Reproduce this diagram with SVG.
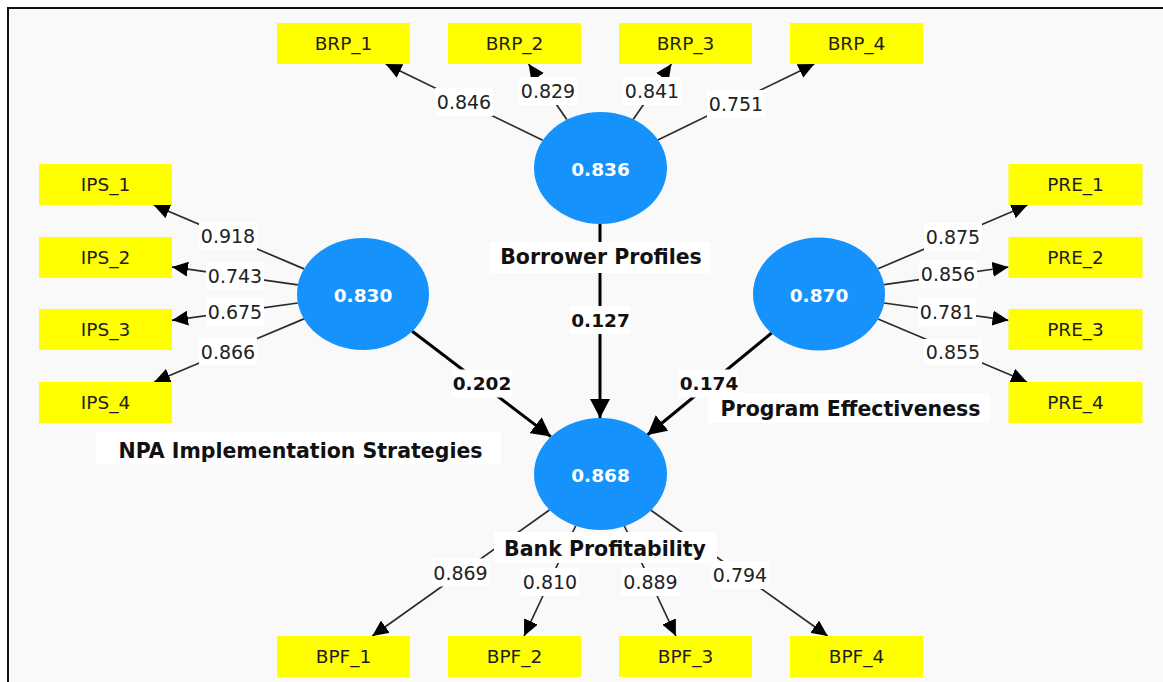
<svg xmlns="http://www.w3.org/2000/svg" width="1163" height="682" viewBox="0 0 1163 682">
  <style>
    .ind rect { fill: #ffff00; }
    .ind text { font-family: "DejaVu Sans", sans-serif; font-size: 18.5px; fill: #1e1e1e; text-anchor: middle; }
    .lv ellipse { fill: #1592fc; }
    .lv .val { font-family: "DejaVu Sans", sans-serif; font-weight: bold; font-size: 18.5px; fill: #ffffff; text-anchor: middle; }
    .name rect, .lbl rect { fill: #ffffff; }
    .name text { font-family: "DejaVu Sans", sans-serif; font-weight: bold; font-size: 20.5px; fill: #111111; text-anchor: middle; }
    .load { stroke: #2a2a2a; stroke-width: 1.7; fill: none; marker-end: url(#ah); }
    .path { stroke: #000000; stroke-width: 3; fill: none; marker-end: url(#ahp); }
    .lbl text { font-family: "DejaVu Sans", sans-serif; font-size: 19px; fill: #222222; text-anchor: middle; }
    .lbl.b text { font-weight: bold; font-size: 18.5px; fill: #111111; }
  </style>
  <defs>
    <marker id="ah" markerUnits="userSpaceOnUse" markerWidth="16" markerHeight="15" refX="16" refY="7.5" orient="auto">
      <path d="M0,0 L16,7.5 L0,15 z" fill="#000000"/>
    </marker>
    <marker id="ahp" markerUnits="userSpaceOnUse" markerWidth="19" markerHeight="20" refX="19" refY="10" orient="auto">
      <path d="M0,0 L19,10 L0,20 z" fill="#000000"/>
    </marker>
  </defs>

  <!-- canvas and frame -->
  <rect x="0" y="0" width="1163" height="682" fill="#ffffff"/>
  <rect x="8" y="8" width="1155" height="674" fill="#f9f9f9"/>
  <path d="M8,682 L8,8 L1163,8" stroke="#111111" stroke-width="2" fill="none"/>

  <!-- connectors -->
  <g id="connectors">
    <!-- outer loadings -->
    <line class="load" x1="542.7" y1="140.2" x2="385.7" y2="64"/>
    <line class="load" x1="566.8" y1="119.6" x2="528.6" y2="64"/>
    <line class="load" x1="633.2" y1="119.6" x2="671.4" y2="64"/>
    <line class="load" x1="657.3" y1="140.2" x2="814.3" y2="64"/>
    <line class="load" x1="304.0" y1="268.9" x2="153.7" y2="205"/>
    <line class="load" x1="297.9" y1="284.8" x2="172" y2="266.9"/>
    <line class="load" x1="297.8" y1="303.0" x2="172" y2="320.3"/>
    <line class="load" x1="303.9" y1="318.9" x2="154.2" y2="382"/>
    <line class="load" x1="878" y1="268.8" x2="1027.5" y2="205"/>
    <line class="load" x1="884.1" y1="284.7" x2="1008.5" y2="267"/>
    <line class="load" x1="884.1" y1="303.0" x2="1008.5" y2="320.3"/>
    <line class="load" x1="878.1" y1="319" x2="1027" y2="382"/>
    <line class="load" x1="549.4" y1="510" x2="372.3" y2="636"/>
    <line class="load" x1="575.6" y1="526" x2="524.1" y2="636"/>
    <line class="load" x1="624.4" y1="526" x2="675.9" y2="636"/>
    <line class="load" x1="650.6" y1="510" x2="827.7" y2="636"/>
    <!-- structural paths -->
    <line class="path" x1="600" y1="224" x2="600" y2="418"/>
    <line class="path" x1="412.2" y1="331.3" x2="550.8" y2="436.6"/>
    <line class="path" x1="771.6" y1="333" x2="647.4" y2="435"/>

    <!-- loading values -->
    <g class="lbl"><rect x="435" y="88" width="58" height="28"/><text x="464" y="109">0.846</text></g>
    <g class="lbl"><rect x="519" y="77" width="58" height="28"/><text x="548" y="98">0.829</text></g>
    <g class="lbl"><rect x="623" y="77" width="58" height="28"/><text x="652" y="98">0.841</text></g>
    <g class="lbl"><rect x="707" y="90" width="58" height="28"/><text x="736" y="111">0.751</text></g>
    <g class="lbl"><rect x="199" y="222" width="58" height="28"/><text x="228" y="243">0.918</text></g>
    <g class="lbl"><rect x="206" y="262" width="58" height="28"/><text x="235" y="283">0.743</text></g>
    <g class="lbl"><rect x="206" y="297.5" width="58" height="28"/><text x="235" y="318.5">0.675</text></g>
    <g class="lbl"><rect x="199" y="338" width="58" height="27"/><text x="228" y="358.5">0.866</text></g>
    <g class="lbl"><rect x="924" y="223" width="58" height="28"/><text x="953" y="244">0.875</text></g>
    <g class="lbl"><rect x="919" y="260" width="58" height="28"/><text x="948" y="281">0.856</text></g>
    <g class="lbl"><rect x="918" y="298" width="58" height="28"/><text x="947" y="319">0.781</text></g>
    <g class="lbl"><rect x="924" y="339" width="58" height="26"/><text x="953" y="359">0.855</text></g>
    <g class="lbl"><rect x="431.5" y="558.5" width="58" height="28"/><text x="460.5" y="579.5">0.869</text></g>
    <g class="lbl"><rect x="521" y="568" width="58" height="28"/><text x="550" y="589">0.810</text></g>
    <g class="lbl"><rect x="621.5" y="568" width="58" height="28"/><text x="650.5" y="589">0.889</text></g>
    <g class="lbl"><rect x="711" y="561" width="58" height="28"/><text x="740" y="582">0.794</text></g>

    <!-- path coefficients -->
    <g class="lbl b"><rect x="570" y="306" width="61" height="28"/><text x="600.5" y="327">0.127</text></g>
    <g class="lbl b"><rect x="452" y="369.5" width="60" height="28"/><text x="482" y="390">0.202</text></g>
    <g class="lbl b"><rect x="679" y="369.5" width="60" height="28"/><text x="709" y="390">0.174</text></g>
  </g>

  <!-- Borrower Profiles -->
  <g id="borrower-profiles">
    <g class="lv"><ellipse cx="600.5" cy="168" rx="66.5" ry="56"/><text class="val" x="600.5" y="175.5">0.836</text></g>
    <g class="name"><rect x="489" y="242" width="222" height="31"/><text x="601" y="264">Borrower Profiles</text></g>
  </g>
  <g id="brp-1" class="ind"><rect x="277" y="23" width="133" height="41"/><text x="343.5" y="50">BRP_1</text></g>
  <g id="brp-2" class="ind"><rect x="448" y="23" width="133" height="41"/><text x="514.5" y="50">BRP_2</text></g>
  <g id="brp-3" class="ind"><rect x="619" y="23" width="133" height="41"/><text x="685.5" y="50">BRP_3</text></g>
  <g id="brp-4" class="ind"><rect x="790" y="23" width="133" height="41"/><text x="856.5" y="50">BRP_4</text></g>

  <!-- NPA Implementation Strategies -->
  <g id="npa-strategies">
    <g class="lv"><ellipse cx="363" cy="294" rx="66" ry="56"/><text class="val" x="363" y="301.5">0.830</text></g>
    <g class="name"><rect x="96" y="432" width="405" height="32"/><text x="300.5" y="458">NPA Implementation Strategies</text></g>
  </g>
  <g id="ips-1" class="ind"><rect x="39" y="164" width="133" height="41"/><text x="105.5" y="191">IPS_1</text></g>
  <g id="ips-2" class="ind"><rect x="39" y="237" width="133" height="41"/><text x="105.5" y="264">IPS_2</text></g>
  <g id="ips-3" class="ind"><rect x="39" y="309" width="133" height="41"/><text x="105.5" y="336">IPS_3</text></g>
  <g id="ips-4" class="ind"><rect x="39" y="382" width="133" height="41"/><text x="105.5" y="409">IPS_4</text></g>

  <!-- Program Effectiveness -->
  <g id="program-effectiveness">
    <g class="lv"><ellipse cx="819" cy="294" rx="66" ry="56.5"/><text class="val" x="819" y="301.5">0.870</text></g>
    <g class="name"><rect x="708" y="393" width="282" height="30"/><text x="850.5" y="415.5">Program Effectiveness</text></g>
  </g>
  <g id="pre-1" class="ind"><rect x="1008.5" y="164" width="134" height="41"/><text x="1075.5" y="191">PRE_1</text></g>
  <g id="pre-2" class="ind"><rect x="1008.5" y="237" width="134" height="41"/><text x="1075.5" y="264">PRE_2</text></g>
  <g id="pre-3" class="ind"><rect x="1008.5" y="309" width="134" height="41"/><text x="1075.5" y="336">PRE_3</text></g>
  <g id="pre-4" class="ind"><rect x="1008.5" y="382" width="134" height="41"/><text x="1075.5" y="409">PRE_4</text></g>

  <!-- Bank Profitability -->
  <g id="bank-profitability">
    <g class="lv"><ellipse cx="600.5" cy="474" rx="66.5" ry="56"/><text class="val" x="600.5" y="481.5">0.868</text></g>
    <g class="name"><rect x="494" y="532" width="223" height="31"/><text x="605" y="555.5">Bank Profitability</text></g>
  </g>
  <g id="bpf-1" class="ind"><rect x="277" y="636" width="133" height="41"/><text x="343.5" y="663">BPF_1</text></g>
  <g id="bpf-2" class="ind"><rect x="448" y="636" width="133" height="41"/><text x="514.5" y="663">BPF_2</text></g>
  <g id="bpf-3" class="ind"><rect x="619" y="636" width="133" height="41"/><text x="685.5" y="663">BPF_3</text></g>
  <g id="bpf-4" class="ind"><rect x="790" y="636" width="133" height="41"/><text x="856.5" y="663">BPF_4</text></g>
</svg>
